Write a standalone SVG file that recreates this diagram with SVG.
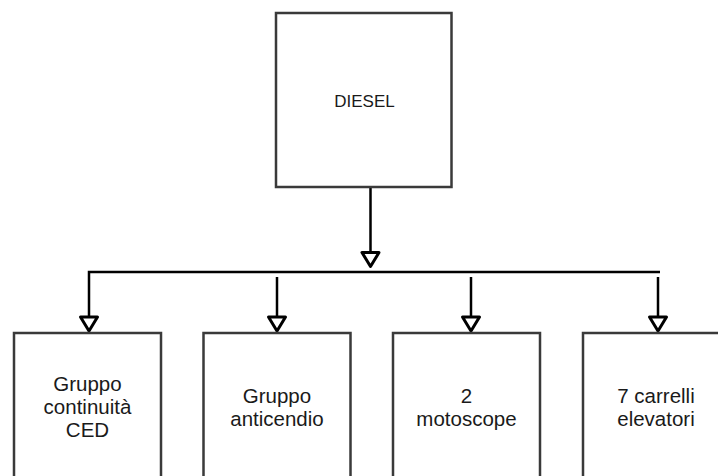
<svg xmlns="http://www.w3.org/2000/svg" width="718" height="476" viewBox="0 0 718 476">
<style>
.box{fill:#fff;stroke:#3a3a3a;stroke-width:2.5}
.lbl{font-family:"Liberation Sans",Arial,sans-serif;fill:#1a1a1a;text-anchor:middle}
.big{font-size:20.5px}
.top{font-size:17px}
.con{fill:none;stroke:#000;stroke-width:2.5}
</style>
<defs>
<marker id="arr" markerUnits="userSpaceOnUse" viewBox="-3 -3 22 24" markerWidth="22" markerHeight="24" refX="14" refY="8.5" orient="auto">
<path d="M0,0 L14,8.5 L0,17 Z" fill="#fff" stroke="#000" stroke-width="3" stroke-linejoin="round"/>
</marker>
</defs>
<rect width="718" height="476" fill="#fff"/>
<g id="connectors">
<line class="con" x1="370.5" y1="187" x2="370.5" y2="266.5" marker-end="url(#arr)"/>
<polyline class="con" points="660,272 89,272 89,331" marker-end="url(#arr)"/>
<line class="con" x1="277" y1="277" x2="277" y2="331" marker-end="url(#arr)"/>
<line class="con" x1="471" y1="277" x2="471" y2="331" marker-end="url(#arr)"/>
<line class="con" x1="658" y1="277" x2="658" y2="331" marker-end="url(#arr)"/>
</g>
<g id="diesel">
<rect class="box" x="276" y="13" width="175.5" height="174"/>
<text class="lbl top" x="364.5" y="106.5">DIESEL</text>
</g>
<g id="ced">
<rect class="box" x="14" y="333" width="147" height="160"/>
<text class="lbl big" x="87.5" y="391">Gruppo</text>
<text class="lbl big" x="87.5" y="414">continuità</text>
<text class="lbl big" x="87.5" y="437">CED</text>
</g>
<g id="anticendio">
<rect class="box" x="203.5" y="333" width="147" height="160"/>
<text class="lbl big" x="277" y="403">Gruppo</text>
<text class="lbl big" x="277" y="426">anticendio</text>
</g>
<g id="motoscope">
<rect class="box" x="393" y="333" width="147" height="160"/>
<text class="lbl big" x="466.5" y="403">2</text>
<text class="lbl big" x="466.5" y="426">motoscope</text>
</g>
<g id="carrelli">
<rect class="box" x="583" y="333" width="147" height="160"/>
<text class="lbl big" x="656" y="403">7 carrelli</text>
<text class="lbl big" x="656" y="426">elevatori</text>
</g>
</svg>
